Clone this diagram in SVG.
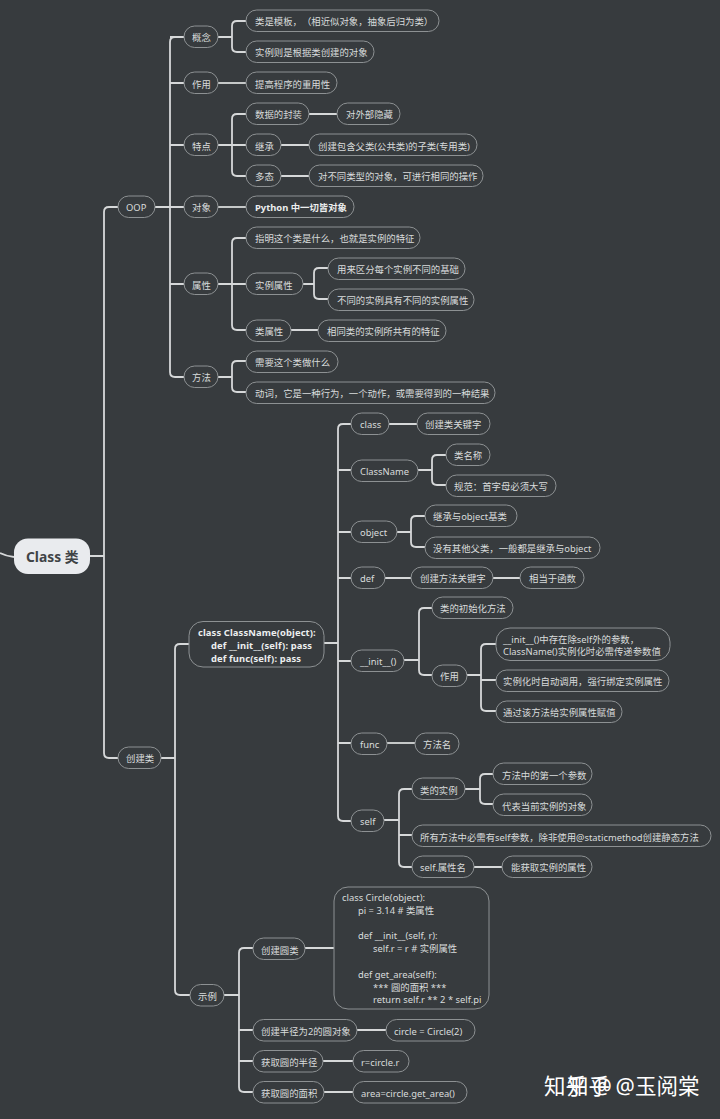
<svg xmlns="http://www.w3.org/2000/svg" width="720" height="1119" viewBox="0 0 720 1119">
<style>
text{font-family:"Noto Sans","Noto Sans CJK SC",sans-serif;font-size:9.4px;fill:#d9dbdc;text-spacing-trim:space-all}
.n rect{fill:#373b3e;stroke:#8d9193;stroke-width:1}
.b{font-weight:700;fill:#eceeef;letter-spacing:.12px}
#conn path{fill:none;stroke:#d6d8d9;stroke-width:1.8}
.w{font-size:21.5px;fill:#fff}
</style>
<rect width="720" height="1119" fill="#373b3e"/>
<g id="conn">
<path d="M0 553Q6 556 14 557M90 556H104M109 207Q104 207 104 212V753Q104 758 109 758H118M109 207H118"/>
<path d="M155 207H184M175 37Q170 37 170 42V372Q170 377 175 377H184M170 37H184M170 83H184M170 145H184M170 284H184"/>
<path d="M218 37H232M237 21Q232 21 232 26V47Q232 52 237 52H246M237 21H246"/>
<path d="M218 83H246"/>
<path d="M218 145H246M237 114Q232 114 232 119V171Q232 176 237 176H246M237 114H246M309 114H337M281 145H309M281 176H309"/>
<path d="M218 207H246"/>
<path d="M218 284H246M237 238Q232 238 232 243V325Q232 330 237 330H246M237 238H246M291 330H318"/>
<path d="M303 284H314M319 268Q314 268 314 273V294Q314 299 319 299H328M319 268H328"/>
<path d="M218 377H232M237 361Q232 361 232 366V387Q232 392 237 392H246M237 361H246"/>
<path d="M161 758H175M180 644Q175 644 175 649V990Q175 995 180 995H190M180 644H189"/>
<path d="M324 643H338M343 424Q338 424 338 429V816Q338 821 343 821H351M343 424H351M338 470H351M338 532H351M338 578H351M338 661H351M338 743H351M389 424H417"/>
<path d="M418 470H432M437 455Q432 455 432 460V480Q432 485 437 485H446M437 455H446"/>
<path d="M397 532H411M416 516Q411 516 411 521V542Q411 547 416 547H425M416 516H425"/>
<path d="M385 578H411M493 578H520"/>
<path d="M404 660H419M424 608Q419 608 419 613V670Q419 675 424 675H432M424 608H432"/>
<path d="M467 675H481M486 644Q481 644 481 649V706Q481 711 486 711H496M486 644H496M481 680H496"/>
<path d="M387 743H415"/>
<path d="M384 820H399M404 789Q399 789 399 794V862Q399 867 404 867H412M404 789H412M399 835H412M474 867H502"/>
<path d="M465 789H480M485 774Q480 774 480 779V799Q480 804 485 804H493M485 774H493"/>
<path d="M224 995H239M244 948Q239 948 239 953V1087Q239 1092 244 1092H253M244 948H253M239 1030H253M239 1061H253M305 948H334M357 1030H386M323 1061H353M324 1092H353"/>
</g>
<g id="root"><rect x="14" y="538.500" width="76" height="35.500" rx="14" fill="#e9ebee"/><text x="26" y="562" style="font-size:13.800px;font-weight:700;fill:#3f4346">Class 类</text></g>
<g id="n1" class="n"><rect x="118" y="196" width="37" height="21.500" rx="10.700"/><text x="126" y="211">OOP</text></g>
<g id="n2" class="n"><rect x="118" y="747" width="43" height="21.500" rx="10.700"/><text x="126" y="762">创建类</text></g>
<g id="n3" class="n"><rect x="184" y="26" width="34" height="21.500" rx="10.700"/><text x="192" y="41">概念</text></g>
<g id="n4" class="n"><rect x="246" y="10" width="193" height="21.500" rx="10.700"/><text x="255" y="25">类是模板，（相近似对象，抽象后归为类）</text></g>
<g id="n5" class="n"><rect x="246" y="41" width="128" height="21.500" rx="10.700"/><text x="255" y="56">实例则是根据类创建的对象</text></g>
<g id="n6" class="n"><rect x="184" y="72" width="34" height="21.500" rx="10.700"/><text x="192" y="88">作用</text></g>
<g id="n7" class="n"><rect x="246" y="72" width="91" height="21.500" rx="10.700"/><text x="255" y="88">提高程序的重用性</text></g>
<g id="n8" class="n"><rect x="184" y="134" width="34" height="21.500" rx="10.700"/><text x="192" y="150">特点</text></g>
<g id="n9" class="n"><rect x="246" y="103" width="63" height="21.500" rx="10.700"/><text x="255" y="118">数据的封装</text></g>
<g id="n10" class="n"><rect x="337" y="103" width="63" height="21.500" rx="10.700"/><text x="346" y="118">对外部隐藏</text></g>
<g id="n11" class="n"><rect x="246" y="134" width="35" height="21.500" rx="10.700"/><text x="255" y="150">继承</text></g>
<g id="n12" class="n"><rect x="309" y="134" width="168" height="21.500" rx="10.700"/><text x="318" y="150">创建包含父类(公共类)的子类(专用类)</text></g>
<g id="n13" class="n"><rect x="246" y="165" width="35" height="21.500" rx="10.700"/><text x="255" y="180">多态</text></g>
<g id="n14" class="n"><rect x="309" y="165" width="174" height="21.500" rx="10.700"/><text x="318" y="180">对不同类型的对象，可进行相同的操作</text></g>
<g id="n15" class="n"><rect x="184" y="196" width="34" height="21.500" rx="10.700"/><text x="192" y="211">对象</text></g>
<g id="n16" class="n"><rect x="246" y="196" width="108" height="21.500" rx="10.700"/><text x="255" y="211" class="b" style="letter-spacing:0">Python 中一切皆对象</text></g>
<g id="n17" class="n"><rect x="184" y="273" width="34" height="21.500" rx="10.700"/><text x="192" y="289">属性</text></g>
<g id="n18" class="n"><rect x="246" y="227" width="174" height="21.500" rx="10.700"/><text x="255" y="242">指明这个类是什么，也就是实例的特征</text></g>
<g id="n19" class="n"><rect x="246" y="273" width="57" height="21.500" rx="10.700"/><text x="255" y="289">实例属性</text></g>
<g id="n20" class="n"><rect x="328" y="258" width="137" height="21.500" rx="10.700"/><text x="337" y="273">用来区分每个实例不同的基础</text></g>
<g id="n21" class="n"><rect x="328" y="289" width="146" height="21.500" rx="10.700"/><text x="337" y="304">不同的实例具有不同的实例属性</text></g>
<g id="n22" class="n"><rect x="246" y="320" width="45" height="21.500" rx="10.700"/><text x="255" y="335">类属性</text></g>
<g id="n23" class="n"><rect x="318" y="320" width="128" height="21.500" rx="10.700"/><text x="327" y="335">相同类的实例所共有的特征</text></g>
<g id="n24" class="n"><rect x="184" y="366" width="34" height="21.500" rx="10.700"/><text x="192" y="381">方法</text></g>
<g id="n25" class="n"><rect x="246" y="351" width="92" height="21.500" rx="10.700"/><text x="255" y="366">需要这个类做什么</text></g>
<g id="n26" class="n"><rect x="246" y="382" width="249" height="21.500" rx="10.700"/><text x="255" y="397">动词，它是一种行为，一个动作，或需要得到的一种结果</text></g>
<g id="n27" class="n"><rect x="189" y="621.500" width="135" height="45.500" rx="14"/><text x="198" y="636" class="b">class ClassName(object):</text><text x="211" y="649" class="b">def __init__(self): pass</text><text x="211" y="662" class="b">def func(self): pass</text></g>
<g id="n28" class="n"><rect x="351" y="413" width="38" height="21.500" rx="10.700"/><text x="360" y="428">class</text></g>
<g id="n29" class="n"><rect x="417" y="413" width="73" height="21.500" rx="10.700"/><text x="425" y="428">创建类关键字</text></g>
<g id="n30" class="n"><rect x="351" y="460" width="67" height="21.500" rx="10.700"/><text x="360" y="475">ClassName</text></g>
<g id="n31" class="n"><rect x="446" y="444" width="44" height="21.500" rx="10.700"/><text x="454" y="459">类名称</text></g>
<g id="n32" class="n"><rect x="446" y="475" width="110" height="21.500" rx="10.700"/><text x="454" y="490">规范：首字母必须大写</text></g>
<g id="n33" class="n"><rect x="351" y="521" width="46" height="21.500" rx="10.700"/><text x="360" y="536">object</text></g>
<g id="n34" class="n"><rect x="425" y="505" width="92" height="21.500" rx="10.700"/><text x="433" y="520">继承与object基类</text></g>
<g id="n35" class="n"><rect x="425" y="537" width="175" height="21.500" rx="10.700"/><text x="433" y="552">没有其他父类，一般都是继承与object</text></g>
<g id="n36" class="n"><rect x="351" y="567" width="34" height="21.500" rx="10.700"/><text x="360" y="582">def</text></g>
<g id="n37" class="n"><rect x="411" y="567" width="82" height="21.500" rx="10.700"/><text x="420" y="582">创建方法关键字</text></g>
<g id="n38" class="n"><rect x="520" y="567" width="64" height="21.500" rx="10.700"/><text x="529" y="582">相当于函数</text></g>
<g id="n39" class="n"><rect x="351" y="650" width="53" height="21.500" rx="10.700"/><text x="360" y="665">__init__()</text></g>
<g id="n40" class="n"><rect x="432" y="597" width="81" height="21.500" rx="10.700"/><text x="440" y="612">类的初始化方法</text></g>
<g id="n41" class="n"><rect x="432" y="665" width="35" height="21.500" rx="10.700"/><text x="440" y="680">作用</text></g>
<g id="n42" class="n"><rect x="496" y="628" width="174" height="32.500" rx="14"/><text x="503" y="643">__init__()中存在除self外的参数，</text><text x="503" y="655">ClassName()实例化时必需传递参数值</text></g>
<g id="n43" class="n"><rect x="496" y="670" width="173" height="21.500" rx="10.700"/><text x="503" y="685">实例化时自动调用，强行绑定实例属性</text></g>
<g id="n44" class="n"><rect x="496" y="701" width="126" height="21.500" rx="10.700"/><text x="503" y="716">通过该方法给实例属性赋值</text></g>
<g id="n45" class="n"><rect x="351" y="733" width="36" height="21.500" rx="10.700"/><text x="360" y="748">func</text></g>
<g id="n46" class="n"><rect x="415" y="733" width="44" height="21.500" rx="10.700"/><text x="423" y="748">方法名</text></g>
<g id="n47" class="n"><rect x="351" y="810" width="33" height="21.500" rx="10.700"/><text x="360" y="825">self</text></g>
<g id="n48" class="n"><rect x="412" y="778" width="53" height="21.500" rx="10.700"/><text x="420" y="794">类的实例</text></g>
<g id="n49" class="n"><rect x="493" y="763" width="99" height="21.500" rx="10.700"/><text x="502" y="779">方法中的第一个参数</text></g>
<g id="n50" class="n"><rect x="493" y="794" width="99" height="21.500" rx="10.700"/><text x="502" y="810">代表当前实例的对象</text></g>
<g id="n51" class="n"><rect x="412" y="825" width="299" height="21.500" rx="10.700"/><text x="420" y="841">所有方法中必需有self参数，除非使用@staticmethod创建静态方法</text></g>
<g id="n52" class="n"><rect x="412" y="856" width="62" height="21.500" rx="10.700"/><text x="420" y="871">self.属性名</text></g>
<g id="n53" class="n"><rect x="502" y="856" width="90" height="21.500" rx="10.700"/><text x="511" y="871">能获取实例的属性</text></g>
<g id="n54" class="n"><rect x="190" y="984.500" width="34" height="21.500" rx="10.700"/><text x="198" y="1000">示例</text></g>
<g id="n55" class="n"><rect x="253" y="938" width="52" height="21.500" rx="10.700"/><text x="261" y="954">创建圆类</text></g>
<g id="n56" class="n"><rect x="334" y="887" width="155" height="122" rx="14"/><text x="342" y="901">class Circle(object):</text><text x="358" y="914">pi = 3.14 # 类属性</text><text x="358" y="939">def __init__(self, r):</text><text x="373" y="952">self.r = r # 实例属性</text><text x="358" y="978">def get_area(self):</text><text x="373" y="991">*** 圆的面积 ***</text><text x="373" y="1003">return self.r ** 2 * self.pi</text></g>
<g id="n57" class="n"><rect x="253" y="1019.500" width="104" height="21.500" rx="10.700"/><text x="261" y="1035">创建半径为2的圆对象</text></g>
<g id="n58" class="n"><rect x="386" y="1019.500" width="89" height="21.500" rx="10.700"/><text x="394" y="1035">circle = Circle(2)</text></g>
<g id="n59" class="n"><rect x="253" y="1050.500" width="70" height="21.500" rx="10.700"/><text x="261" y="1066">获取圆的半径</text></g>
<g id="n60" class="n"><rect x="353" y="1050.500" width="56" height="21.500" rx="10.700"/><text x="361" y="1066">r=circle.r</text></g>
<g id="n61" class="n"><rect x="253" y="1081.500" width="71" height="21.500" rx="10.700"/><text x="261" y="1097">获取圆的面积</text></g>
<g id="n62" class="n"><rect x="353" y="1081.500" width="114" height="21.500" rx="10.700"/><text x="361" y="1097">area=circle.get_area()</text></g>
<text class="w" x="544" y="1094">知乎 @</text>
<text class="w" x="567" y="1094">知乎 @玉阅棠</text>
</svg>
